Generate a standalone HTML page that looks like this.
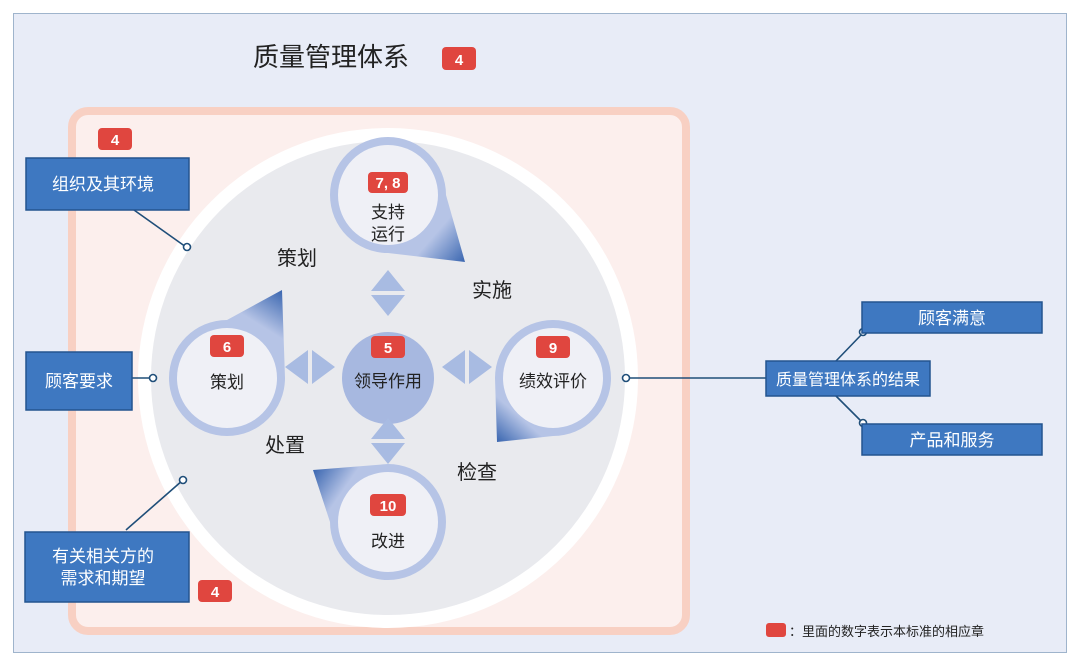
<!DOCTYPE html>
<html><head><meta charset="utf-8"><style>
html,body{margin:0;padding:0;background:#fff;width:1080px;height:671px;overflow:hidden}
svg{display:block}
text{font-family:"Liberation Sans","Noto Sans CJK SC",sans-serif}
</style></head><body>
<svg width="1080" height="671" viewBox="0 0 1080 671" xmlns="http://www.w3.org/2000/svg">
<defs>
<linearGradient id="gT" gradientUnits="userSpaceOnUse" x1="388" y1="195" x2="465" y2="262"><stop offset="0.6" stop-color="#b6c4e6"/><stop offset="1" stop-color="#3a66b0"/></linearGradient>
<linearGradient id="gL" gradientUnits="userSpaceOnUse" x1="227" y1="378" x2="282" y2="290"><stop offset="0.6" stop-color="#b6c4e6"/><stop offset="1" stop-color="#3a66b0"/></linearGradient>
<linearGradient id="gR" gradientUnits="userSpaceOnUse" x1="553" y1="378" x2="497" y2="442"><stop offset="0.6" stop-color="#b6c4e6"/><stop offset="1" stop-color="#3a66b0"/></linearGradient>
<linearGradient id="gB" gradientUnits="userSpaceOnUse" x1="388" y1="522" x2="313" y2="470"><stop offset="0.6" stop-color="#b6c4e6"/><stop offset="1" stop-color="#3a66b0"/></linearGradient>
</defs>
<rect x="0" y="0" width="1080" height="671" fill="#fff"/>
<rect x="13.5" y="13.5" width="1053" height="639" fill="#e8ecf7" stroke="#9fb4cc" stroke-width="1"/>
<rect x="72" y="111" width="614" height="520" rx="16" fill="#fcefed" stroke="#f8d0c3" stroke-width="8"/>
<circle cx="388" cy="378" r="250" fill="#ffffff"/>
<circle cx="388" cy="378" r="237" fill="#e9eaee"/>

<text x="253" y="66" font-size="26" fill="#222">质量管理体系</text>
<rect x="442" y="47" width="34" height="23" rx="4" fill="#e0463f"/>
<text x="459" y="65" font-size="15" font-weight="bold" fill="#fff" text-anchor="middle">4</text>

<path d="M446 195 A58 58 0 1 0 388 253 L465 262 Z" fill="url(#gT)"/>
<circle cx="388" cy="195" r="50" fill="#eff0f6"/>
<path d="M285 378 A58 58 0 1 1 227 320 L282 290 Z" fill="url(#gL)"/>
<circle cx="227" cy="378" r="50" fill="#eff0f6"/>
<path d="M495 378 A58 58 0 1 1 553 436 L497 442 Z" fill="url(#gR)"/>
<circle cx="553" cy="378" r="50" fill="#eff0f6"/>
<path d="M388 464 A58 58 0 1 1 330 522 L313 470 Z" fill="url(#gB)"/>
<circle cx="388" cy="522" r="50" fill="#eff0f6"/>

<circle cx="388" cy="378" r="46" fill="#a7b8e0"/>

<g fill="#a8bbe2">
<polygon points="388,270 405,291 371,291"/><polygon points="388,316 405,295 371,295"/>
<polygon points="285,367 308,350 308,384"/><polygon points="335,367 312,350 312,384"/>
<polygon points="442,367 465,350 465,384"/><polygon points="492,367 469,350 469,384"/>
<polygon points="388,418 405,439 371,439"/><polygon points="388,464 405,443 371,443"/>
</g>

<g font-weight="bold" fill="#fff" font-size="15" text-anchor="middle">
<rect x="368" y="172" width="40" height="21" rx="4" fill="#e0463f"/><text x="388" y="188" fill="#fff">7, 8</text>
<rect x="210" y="335" width="34" height="22" rx="4" fill="#e0463f"/><text x="227" y="352" fill="#fff">6</text>
<rect x="371" y="336" width="34" height="22" rx="4" fill="#e0463f"/><text x="388" y="353" fill="#fff">5</text>
<rect x="536" y="336" width="34" height="22" rx="4" fill="#e0463f"/><text x="553" y="353" fill="#fff">9</text>
<rect x="370" y="494" width="36" height="22" rx="4" fill="#e0463f"/><text x="388" y="511" fill="#fff">10</text>
<rect x="98" y="128" width="34" height="22" rx="4" fill="#e0463f"/><text x="115" y="145" fill="#fff">4</text>
<rect x="198" y="580" width="34" height="22" rx="4" fill="#e0463f"/><text x="215" y="597" fill="#fff">4</text>
</g>
<g font-size="17" fill="#222" text-anchor="middle">
<text x="388" y="218">支持</text><text x="388" y="240">运行</text>
<text x="227" y="388">策划</text>
<text x="388" y="387">领导作用</text>
<text x="553" y="387">绩效评价</text>
<text x="388" y="547">改进</text>
</g>
<g font-size="20" fill="#222" text-anchor="middle">
<text x="297" y="265">策划</text>
<text x="492" y="297">实施</text>
<text x="285" y="452">处置</text>
<text x="477" y="479">检查</text>
</g>

<g stroke="#1f4e79" stroke-width="1.6" fill="none">
<line x1="134" y1="210" x2="186" y2="247"/>
<line x1="132" y1="378" x2="150" y2="378"/>
<line x1="126" y1="530" x2="183" y2="480"/>
<line x1="630" y1="378" x2="766" y2="378"/>
<line x1="836" y1="361" x2="863" y2="333"/>
<line x1="836" y1="396" x2="863" y2="423"/>
</g>
<g stroke="#1f4e79" stroke-width="1.6" fill="#fff">
<circle cx="187" cy="247" r="3.5"/>
<circle cx="153" cy="378" r="3.5"/>
<circle cx="183" cy="480" r="3.5"/>
<circle cx="626" cy="378" r="3.5"/>
<circle cx="863" cy="332" r="3.5"/>
<circle cx="863" cy="423" r="3.5"/>
</g>

<g fill="#3e78c1" stroke="#23548f" stroke-width="1.5">
<rect x="26" y="158" width="163" height="52"/>
<rect x="26" y="352" width="106" height="58"/>
<rect x="25" y="532" width="164" height="70"/>
<rect x="766" y="361" width="164" height="35"/>
<rect x="862" y="302" width="180" height="31"/>
<rect x="862" y="424" width="180" height="31"/>
</g>
<g font-size="17" fill="#fff" text-anchor="middle">
<text x="103" y="190">组织及其环境</text>
<text x="79" y="387">顾客要求</text>
<text x="103" y="562">有关相关方的</text>
<text x="103" y="584">需求和期望</text>
<text x="848" y="385" font-size="16">质量管理体系的结果</text>
<text x="952" y="324">顾客满意</text>
<text x="952" y="446">产品和服务</text>
</g>

<rect x="766" y="623" width="20" height="14" rx="3" fill="#e0463f"/>
<text x="789" y="636" font-size="13" fill="#222">：里面的数字表示本标准的相应章</text>
</svg>
</body></html>
